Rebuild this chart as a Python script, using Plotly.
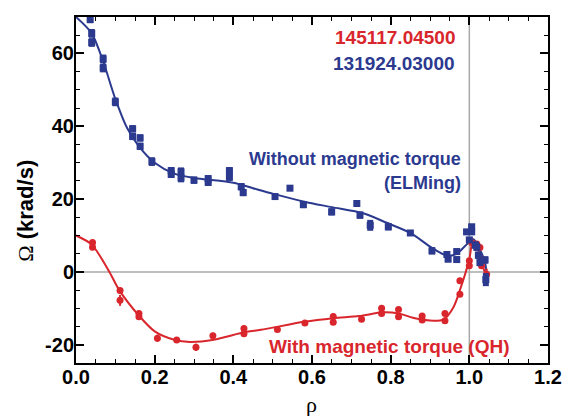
import plotly.graph_objects as go

# ---- data ----
blue_rho = [0.036, 0.040, 0.040, 0.069, 0.069, 0.100, 0.144, 0.144, 0.163, 0.163,
            0.193, 0.242, 0.242, 0.267, 0.267, 0.300, 0.336, 0.336, 0.390, 0.390,
            0.420, 0.425, 0.506, 0.544, 0.578, 0.650, 0.714, 0.722, 0.748, 0.794,
            0.850, 0.905, 0.943, 0.946, 0.968, 0.968, 0.993, 1.006, 1.006, 1.000,
            1.015, 1.019, 1.023, 1.027, 1.040, 1.042]
blue_omega = [69.3, 65.5, 63.0, 58.5, 56.0, 46.7, 39.3, 37.2, 36.8, 34.5,
              30.3, 27.8, 26.8, 27.5, 25.8, 25.2, 25.6, 24.6, 27.8, 26.0,
              23.4, 21.8, 20.7, 23.0, 18.5, 16.5, 18.8, 15.6, 12.8, 12.4,
              10.7, 5.8, 4.8, 3.5, 5.6, 3.4, 11.0, 12.4, 11.0, 8.8,
              7.4, 6.8, 4.6, 2.6, 3.3, -2.1]
blue_err = [1.0, 1.2, 1.2, 1.2, 1.2, 1.2, 1.0, 1.0, 1.0, 1.0,
            1.2, 1.0, 1.0, 1.2, 1.2, 1.0, 1.0, 1.0, 1.0, 1.0,
            1.0, 1.0, 0.8, 0.8, 1.0, 1.0, 0.8, 1.0, 1.5, 1.0,
            0.8, 1.0, 0.8, 0.8, 0.8, 0.8, 0.8, 0.8, 0.8, 0.8,
            1.0, 1.0, 1.0, 1.0, 1.0, 1.8]

blue_fit_rho = [0.0, 0.04, 0.07, 0.10, 0.13, 0.16, 0.20, 0.25, 0.30, 0.40, 0.45,
                0.50, 0.58, 0.65, 0.73, 0.79, 0.85, 0.905, 0.943, 0.968, 0.99,
                1.01, 1.025, 1.04, 1.045]
blue_fit_omega = [70.0, 65.5, 57.5, 47.5, 39.5, 34.5, 30.0, 27.0, 25.8, 24.5, 23.0,
                  21.5, 19.3, 17.8, 16.1, 13.5, 10.7, 6.6, 4.5, 5.0, 7.2,
                  9.0, 6.5, 2.6, -2.5]

red_rho = [0.042, 0.042, 0.112, 0.112, 0.160, 0.160, 0.207, 0.256, 0.305, 0.348,
           0.427, 0.427, 0.512, 0.582, 0.654, 0.654, 0.726, 0.777, 0.777, 0.820,
           0.820, 0.880, 0.880, 0.938, 0.938, 0.976, 0.976, 1.000, 1.000, 1.006,
           1.019, 1.027, 1.031, 1.031, 1.044]
red_omega = [8.1, 6.8, -5.1, -7.8, -11.4, -12.3, -18.2, -18.7, -20.7, -17.5,
             -15.5, -17.0, -15.8, -14.0, -12.2, -13.8, -13.0, -10.0, -11.4, -10.3,
             -12.3, -12.1, -13.2, -11.4, -13.4, -2.4, -6.1, 3.1, 1.7, 8.1,
             7.7, 6.7, 3.5, 1.7, -0.6]
red_err = [0.8, 0.8, 0.8, 1.5, 0.8, 0.8, 1.0, 0.8, 1.0, 0.8,
           0.8, 0.8, 0.6, 0.8, 0.8, 0.8, 0.6, 0.6, 0.6, 0.6,
           0.6, 0.8, 0.8, 0.6, 0.6, 0.6, 0.6, 0.6, 0.6, 0.8,
           0.8, 0.8, 0.8, 0.8, 1.5]

red_fit_rho = [0.0, 0.04, 0.085, 0.11, 0.16, 0.20, 0.25, 0.29, 0.35, 0.43, 0.47,
               0.58, 0.654, 0.72, 0.78, 0.82, 0.865, 0.91, 0.935, 0.96, 0.976,
               1.0, 1.009, 1.02, 1.031, 1.044]
red_fit_omega = [10.0, 7.5, 0.0, -5.0, -12.0, -16.3, -18.6, -19.2, -18.6, -16.5, -15.9,
                 -13.7, -12.7, -12.1, -11.1, -11.4, -12.8, -13.4, -13.0, -9.6, -5.0,
                 3.5, 8.6, 7.0, 2.6, -1.5]

x_ticks = [0.0, 0.2, 0.4, 0.6, 0.8, 1.0, 1.2]
x_tick_labels = ["0.0", "0.2", "0.4", "0.6", "0.8", "1.0", "1.2"]
y_ticks = [-20, 0, 20, 40, 60]
y_tick_labels = ["-20", "0", "20", "40", "60"]

BLUE = "#2B3A8F"
RED = "#D9262C"
GREY = "#A8A8A8"
SANS = "Liberation Sans, Arial, sans-serif"
SERIF = "Liberation Serif, Times New Roman, serif"

fig = go.Figure()

fig.add_trace(go.Scatter(x=red_fit_rho, y=red_fit_omega, mode="lines",
                         line=dict(color=RED, width=2, shape="spline", smoothing=0.8),
                         hoverinfo="skip", showlegend=False))
fig.add_trace(go.Scatter(x=blue_fit_rho, y=blue_fit_omega, mode="lines",
                         line=dict(color=BLUE, width=2, shape="spline", smoothing=0.8),
                         hoverinfo="skip", showlegend=False))
fig.add_trace(go.Scatter(x=red_rho, y=red_omega, mode="markers",
                         marker=dict(symbol="circle", size=7, color=RED),
                         error_y=dict(type="data", array=red_err, color=RED,
                                      thickness=2, width=0),
                         showlegend=False))
fig.add_trace(go.Scatter(x=blue_rho, y=blue_omega, mode="markers",
                         marker=dict(symbol="square", size=7, color=BLUE),
                         error_y=dict(type="data", array=blue_err, color=BLUE,
                                      thickness=6, width=0),
                         showlegend=False))

fig.add_shape(type="line", xref="x", yref="paper", x0=1.0, x1=1.0, y0=0, y1=1,
              line=dict(color=GREY, width=1.5), layer="below")
fig.add_shape(type="line", xref="paper", yref="y", x0=0, x1=1, y0=0, y1=0,
              line=dict(color=GREY, width=1.5), layer="below")

axis_common = dict(showgrid=False, zeroline=False, showline=True, linecolor="black",
                   linewidth=2, mirror="allticks", ticks="inside", ticklen=8,
                   tickwidth=1.5, tickcolor="black", automargin=False,
                   tickfont=dict(family=SANS, size=20, color="black", weight="bold"))

fig.update_xaxes(range=[0, 1.2], tickvals=x_ticks, ticktext=x_tick_labels,
                 ticklabelstandoff=-5,
                 minor=dict(dtick=0.05, ticklen=4, tickwidth=1, tickcolor="black",
                            ticks="inside", showgrid=False),
                 **axis_common)
fig.update_yaxes(range=[-25, 70], tickvals=y_ticks, ticktext=y_tick_labels,
                 ticklabelstandoff=-4,
                 minor=dict(dtick=5, tick0=0, ticklen=4, tickwidth=1, tickcolor="black",
                            ticks="inside", showgrid=False),
                 **axis_common)

ann = []
ann.append(dict(text="145117.04500", x=0.807, y=0.941, xanchor="right", yanchor="middle",
                font=dict(family=SANS, size=19, color=RED, weight="bold")))
ann.append(dict(text="131924.03000", x=0.807, y=0.867, xanchor="right", yanchor="middle",
                font=dict(family=SANS, size=19, color=BLUE, weight="bold")))
ann.append(dict(text="Without magnetic torque", x=0.82, y=0.59, xanchor="right",
                yanchor="middle", font=dict(family=SANS, size=18, color=BLUE, weight="bold")))
ann.append(dict(text="(ELMing)", x=0.82, y=0.52, xanchor="right",
                yanchor="middle", font=dict(family=SANS, size=18, color=BLUE, weight="bold")))
ann.append(dict(text="With magnetic torque (QH)", x=0.924, y=0.049, xanchor="right",
                yanchor="middle", font=dict(family=SANS, size=19, color=RED, weight="bold")))
ann.append(dict(text="<span style='font-family:Liberation Serif;font-weight:normal'>Ω</span> (krad/s)",
                x=-0.106, y=0.44, textangle=-90, xanchor="center", yanchor="middle",
                font=dict(family=SANS, size=22, color="black", weight="bold")))
ann.append(dict(text="ρ", x=0.498, y=-0.121, xanchor="center", yanchor="middle",
                font=dict(family=SERIF, size=22, color="black")))
for a in ann:
    a.update(xref="paper", yref="paper", showarrow=False)
fig.update_layout(annotations=ann)

fig.update_layout(width=563, height=416, margin=dict(l=76, r=15, t=17, b=53),
                  paper_bgcolor="white", plot_bgcolor="white", showlegend=False)

fig.write_html("out.html", config={"displayModeBar": False},
               post_script="document.body.style.margin='0px';document.body.style.padding='0px';"
                           "document.body.style.overflow='hidden';"
                           "document.documentElement.style.overflow='hidden';")
